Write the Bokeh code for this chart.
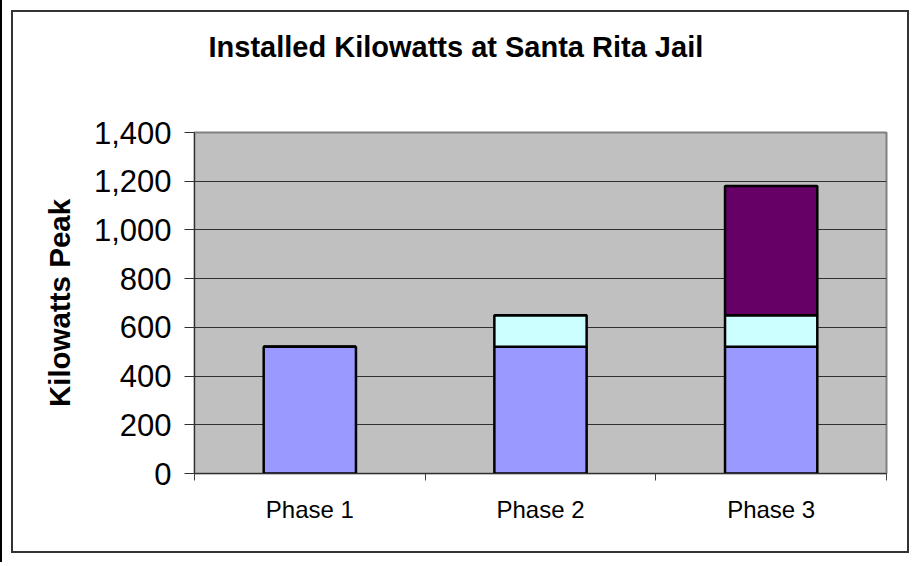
from bokeh.plotting import figure
from bokeh.models import ColumnDataSource, FixedTicker, Range1d, NumeralTickFormatter, Title
from bokeh.embed import file_html
from bokeh.resources import INLINE

# ---- data ----
title_text = "Installed Kilowatts at Santa Rita Jail"
categories = ["Phase 1", "Phase 2", "Phase 3"]
phase1_array = [520, 520, 520]
phase2_addition = [0, 130, 130]
phase3_addition = [0, 0, 530]
y_ticks = [0, 200, 400, 600, 800, 1000, 1200, 1400]
series = ["phase1_array", "phase2_addition", "phase3_addition"]
colors = ["#9999FF", "#CCFFFF", "#660066"]

x_centers = [i + 0.5 for i in range(len(categories))]
x_bounds = list(range(len(categories) + 1))

src = ColumnDataSource(dict(
    x=x_centers,
    phase1_array=phase1_array,
    phase2_addition=phase2_addition,
    phase3_addition=phase3_addition,
))

FONT = "Liberation Sans"

p = figure(
    width=898, height=543,
    x_range=Range1d(0, len(categories)), y_range=Range1d(y_ticks[0], y_ticks[-1]),
    output_backend="svg", toolbar_location=None,
    min_border_left=181, min_border_right=25, min_border_top=120, min_border_bottom=82,
    title=title_text,
)

p.vbar_stack(series, x="x", width=0.4, source=src, fill_color=colors,
             line_color="black", line_width=2.5)

p.background_fill_color = "#C0C0C0"
p.border_fill_color = "white"
p.outline_line_color = "#808080"
p.outline_line_width = 2

# title (outermost) with an empty spacer title between it and the plot area
p.add_layout(Title(text=" ", text_font_size="1px", standoff=67), "above")
p.title.text_font = FONT
p.title.text_font_size = "29px"
p.title.text_font_style = "bold"
p.title.align = "left"
p.title.offset = 14
p.title.standoff = 0
p.title.text_color = "black"

# x axis
xa = p.xaxis[0]
xa.ticker = FixedTicker(ticks=x_centers, minor_ticks=x_bounds)
xa.major_label_overrides = {xc: c for xc, c in zip(x_centers, categories)}
xa.major_tick_line_color = None
xa.minor_tick_line_color = "#404040"
xa.minor_tick_out = 7
xa.minor_tick_in = 0
xa.axis_line_color = "#303030"
xa.axis_line_width = 1
xa.major_label_text_font = FONT
xa.major_label_text_font_size = "24px"
xa.major_label_text_color = "black"
xa.major_label_standoff = 15

# y axis
ya = p.yaxis[0]
ya.ticker = FixedTicker(ticks=y_ticks)
ya.formatter = NumeralTickFormatter(format="0,0")
ya.major_tick_out = 10
ya.major_tick_in = 0
ya.major_tick_line_color = "#303030"
ya.minor_tick_line_color = None
ya.axis_line_color = "#303030"
ya.major_label_text_font = FONT
ya.major_label_text_font_size = "31px"
ya.major_label_text_color = "black"
ya.major_label_standoff = 13
ya.axis_label = "Kilowatts Peak"
ya.axis_label_text_font = FONT
ya.axis_label_text_font_size = "29.5px"
ya.axis_label_text_font_style = "bold"
ya.axis_label_text_color = "black"
ya.axis_label_standoff = 15

p.xgrid.visible = False
p.ygrid.ticker = FixedTicker(ticks=y_ticks)
p.ygrid.grid_line_color = "#303030"
p.ygrid.grid_line_width = 1

# inner chart border + outer frame line (top/left)
p.styles = {
    "border": "2px solid #333333",
    "overflow": "hidden",
    "background-color": "white",
    "transform": "translate(11px, 10px)",
    "box-shadow": "2px 1px 0 11px white, -1px -2px 0 11px black",
}

open("out.html", "w").write(file_html(p, INLINE))
